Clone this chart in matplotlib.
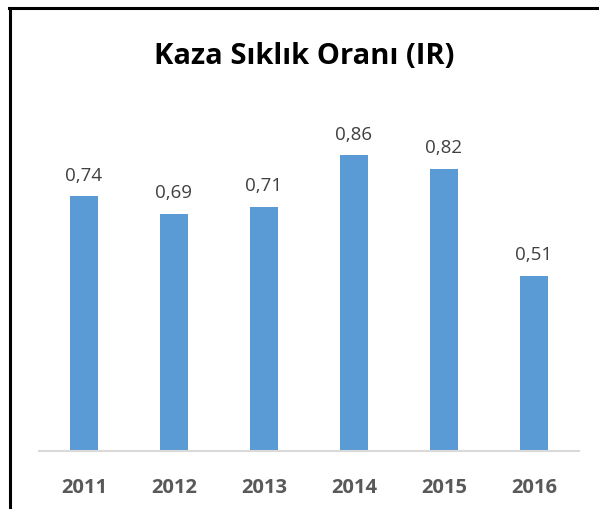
import matplotlib
matplotlib.use("Agg")
import matplotlib.pyplot as plt
from matplotlib.lines import Line2D

years = ["2011", "2012", "2013", "2014", "2015", "2016"]
values = [0.74, 0.69, 0.71, 0.86, 0.82, 0.51]
labels = ["0,74", "0,69", "0,71", "0,86", "0,82", "0,51"]
title = "Kaza Sıklık Oranı (IR)"

W, H = 599, 510
fig = plt.figure(figsize=(W / 100, H / 100), dpi=100)
fig.patch.set_facecolor("white")

ax = fig.add_axes([39 / W, (H - 452) / H, (579 - 39) / W, (452 - 108) / H])
x = list(range(len(years)))
ax.bar(x, values, width=0.31, color="#5b9bd5", zorder=2)
ax.set_xlim(-0.5, len(years) - 0.5)
ax.set_ylim(0, 1.0)

for xi, v, lab in zip(x, values, labels):
    ax.annotate(lab, (xi, v), xytext=(0, 9), textcoords="offset points",
                ha="center", va="bottom", fontsize=13.5, color="#404040",
                family="Open Sans")

for s in ["left", "right", "top"]:
    ax.spines[s].set_visible(False)
ax.spines["bottom"].set_color("#d9d9d9")
ax.spines["bottom"].set_linewidth(1.5)
ax.set_yticks([])
ax.set_xticks(x)
ax.set_xticklabels(years, fontsize=14.5, fontweight="bold", color="#595959",
                   family="Open Sans")
ax.tick_params(axis="x", length=0, pad=19)

fig.text(304 / W, 1 - 56 / H, title, ha="center", va="center",
         fontsize=21, fontweight="bold", color="black", family="Open Sans")

# frame border (left and top visible)
fig.add_artist(Line2D([10 / W, 10 / W], [0, 1 - 9 / H], transform=fig.transFigure,
                      color="black", linewidth=2.2))
fig.add_artist(Line2D([9 / W, 1], [1 - 9 / H, 1 - 9 / H], transform=fig.transFigure,
                      color="black", linewidth=2.2))

fig.savefig("out.png", dpi=100, facecolor="white")
